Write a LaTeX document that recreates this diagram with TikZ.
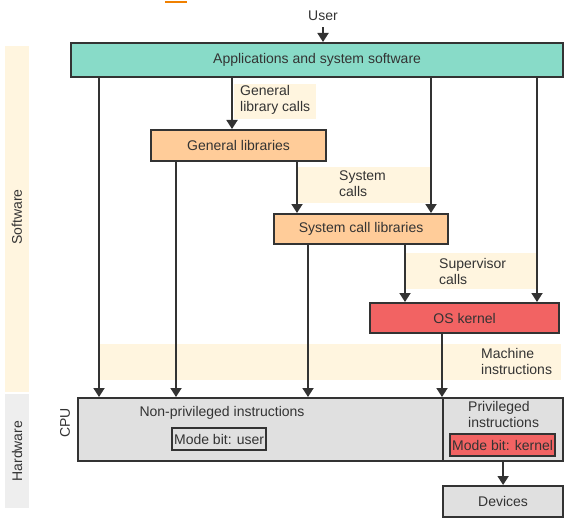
\documentclass[tikz,border=0pt]{standalone}
\usepackage{fontspec}
\setmainfont{Liberation Sans}
\usetikzlibrary{arrows.meta}
\definecolor{ink}{HTML}{333333}
\definecolor{teal}{HTML}{88DBC8}
\definecolor{peach}{HTML}{FFCC99}
\definecolor{kred}{HTML}{F26363}
\definecolor{lgray}{HTML}{E0E0E0}
\definecolor{cream}{HTML}{FFF5DF}
\definecolor{hwgray}{HTML}{EEEEEE}
\definecolor{accent}{HTML}{F08000}
\begin{document}
\begin{tikzpicture}[x=1pt,y=-1pt,
  font=\fontsize{14}{16}\selectfont, text=ink,
  box/.style={draw=ink, line width=2.2pt, inner sep=0pt, anchor=north west},
  band/.style={inner sep=0pt, anchor=north west, draw=none},
  lbl/.style={fill=cream, inner sep=0pt, anchor=north west, draw=none},
  ltxt/.style={inner sep=0pt, anchor=west, align=left},
  arr/.style={draw=ink, line width=1.8pt, -{Triangle[width=11pt,length=9pt]}},
  plain/.style={draw=ink, line width=1.8pt}]
\useasboundingbox (0,0) rectangle (583,524);

% top accent
\fill[accent] (165,1.5) rectangle (187,3.5);

% side bands
\node[band, fill=cream, minimum width=24pt, minimum height=346pt] (swband) at (5,46) {};
\node[rotate=90] (swtxt) at (17,217) {Software};
\node[band, fill=hwgray, minimum width=24pt, minimum height=114pt] (hwband) at (5,394) {};
\node[rotate=90] (hwtxt) at (hwband) {Hardware};

% label backgrounds
\node[lbl, minimum width=82pt, minimum height=35pt] (glcbg) at (234,84) {};
\node[lbl, minimum width=133pt, minimum height=36pt] (scbg) at (297,167) {};
\node[lbl, minimum width=130pt, minimum height=36pt] (svbg) at (406,253) {};
\node[lbl, minimum width=461pt, minimum height=36pt] (mibg) at (100,344) {};

\node[ltxt] (glc) at (240,100) {General\\library calls};
\node[ltxt] (sc) at (339,184) {System\\calls};
\node[ltxt] (sv) at (439,271) {Supervisor\\calls};
\node[ltxt] (mi) at (481,361) {Machine\\instructions};

% boxes
\node[inner sep=0pt] (user) at (323,16) {User};
\node[box, fill=teal, minimum width=492pt, minimum height=34pt] (apps) at (70,42) {Applications and system software};
\node[box, fill=peach, minimum width=175pt, minimum height=31pt] (genlib) at (150,129) {General libraries};
\node[box, fill=peach, minimum width=174pt, minimum height=30pt] (syslib) at (273,213) {System call libraries};
\node[box, fill=kred, minimum width=189pt, minimum height=30pt] (kernel) at (369,302) {OS kernel};
\node[box, fill=lgray, minimum width=365pt, minimum height=63pt] (npriv) at (77,397) {};
\node[box, fill=lgray, minimum width=120pt, minimum height=63pt] (priv) at (442,397) {};
\node[box, fill=lgray, minimum width=120pt, minimum height=31pt] (devices) at (442,485) {Devices};

\node[rotate=90] (cpu) at (65,423) {CPU};
\node (nptxt) at (222,413) {Non-privileged instructions};
\node[box, minimum width=94pt, minimum height=22pt] (mbuser) at (171,427) {Mode bit: user};
\node[ltxt] (ptxt) at (468,414) {Privileged\\instructions};
\node[box, fill=kred, minimum width=105pt, minimum height=22pt] (mbkernel) at (449,433) {Mode bit: kernel};

% column coordinates
\coordinate (c1) at (99,0);
\coordinate (c2) at (232,0);
\coordinate (c3) at (431,0);
\coordinate (c4) at (537,0);
\coordinate (c5) at (176,0);
\coordinate (c6) at (297,0);
\coordinate (c7) at (308,0);
\coordinate (c8) at (405,0);
\coordinate (c9) at (442,0);

% connectors
\draw[arr, shorten <=6pt] (user.south) -- (user.south |- apps.north);
\draw[arr] (apps.south -| c1) -- (npriv.north -| c1);
\draw[arr] (apps.south -| c2) -- (genlib.north -| c2);
\draw[arr] (apps.south -| c3) -- (syslib.north -| c3);
\draw[arr] (apps.south -| c4) -- (kernel.north -| c4);
\draw[arr] (genlib.south -| c5) -- (npriv.north -| c5);
\draw[arr] (genlib.south -| c6) -- (syslib.north -| c6);
\draw[arr] (syslib.south -| c7) -- (npriv.north -| c7);
\draw[arr] (syslib.south -| c8) -- (kernel.north -| c8);
\draw[arr] (kernel.south -| c9) -- (priv.north west);
\draw[arr] (priv.south -| devices) -- (devices.north);
\end{tikzpicture}
\end{document}
